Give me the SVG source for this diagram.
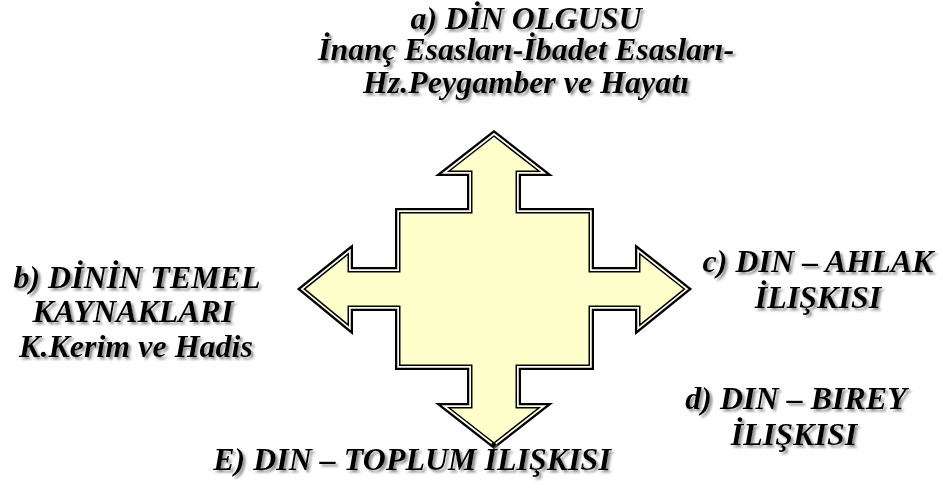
<svg xmlns="http://www.w3.org/2000/svg" xmlns:xlink="http://www.w3.org/1999/xlink" width="943" height="495" viewBox="0 0 943 495">
<style>
  .t { font-family: "Liberation Serif", "Times New Roman", serif; font-weight: bold; font-style: italic; font-size: 32px; fill: #000; text-anchor: middle; filter: url(#shadow); }
</style>
<defs>
  <filter id="shadow" x="-10%" y="-30%" width="120%" height="160%">
    <feDropShadow dx="2.5" dy="2.5" stdDeviation="1" flood-color="#7f7f7f" flood-opacity="0.85"/>
  </filter>
  <path id="shape" d="M494,130 L553,176 L521,176 L521,208 L594,208 L594,267 L635,267 L635,244 L692,289 L635,335 L635,311 L594,311 L594,370 L521,370 L521,403 L553,403 L494,449 L435,403 L467,403 L467,370 L395,370 L395,311 L353,311 L353,335 L297,289 L353,244 L353,267 L395,267 L395,208 L467,208 L467,176 L435,176 Z"/>
  <clipPath id="clip"><use xlink:href="#shape"/></clipPath>
</defs>
<rect width="943" height="495" fill="#fff"/>
<g id="connectors"></g>
<g id="cross-arrow">
  <use xlink:href="#shape" fill="#ffffcc"/>
  <g clip-path="url(#clip)" fill="none" stroke-linejoin="miter" stroke-miterlimit="8">
    <use xlink:href="#shape" stroke="#000" stroke-width="11"/>
    <use xlink:href="#shape" stroke="#fffff0" stroke-width="8"/>
    <use xlink:href="#shape" stroke="#000" stroke-width="4.5"/>
  </g>
</g>
<g id="node-a">
  <text class="t" x="526" y="28.5">a) DİN OLGUSU</text>
  <text class="t" x="526" y="60">İnanç Esasları-İbadet Esasları-</text>
  <text class="t" x="526" y="93">Hz.Peygamber ve Hayatı</text>
</g>
<g id="node-b">
  <text class="t" x="137" y="288">b) DİNİN TEMEL</text>
  <text class="t" x="133" y="322">KAYNAKLARI</text>
  <text class="t" x="136" y="357">K.Kerim ve Hadis</text>
</g>
<g id="node-c">
  <text class="t" x="818" y="272">c) DIN – AHLAK</text>
  <text class="t" x="818" y="308">İLIŞKISI</text>
</g>
<g id="node-d">
  <text class="t" x="796" y="409">d) DIN – BIREY</text>
  <text class="t" x="794" y="445">İLIŞKISI</text>
</g>
<g id="node-e">
  <text class="t" x="412" y="470">E) DIN – TOPLUM İLIŞKISI</text>
</g>
</svg>
